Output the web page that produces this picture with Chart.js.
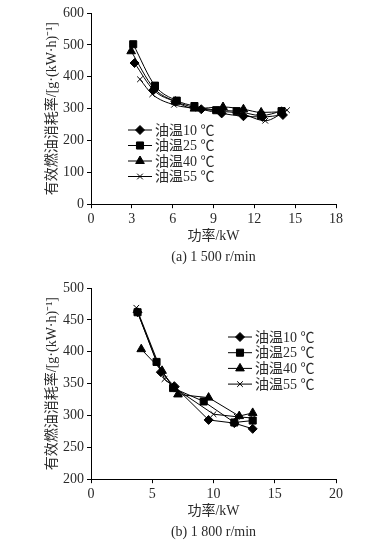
<!DOCTYPE html>
<html>
<head>
<meta charset="utf-8">
<script src="https://cdn.jsdelivr.net/npm/chart.js@4.4.1/dist/chart.umd.min.js"></script>
<style>
  body { margin: 0; background: #fff; }
  .box { position: absolute; left: 0; width: 386px; height: 275px; }
</style>
</head>
<body>
<div class="box" style="top:0"><canvas id="chartA"></canvas></div>
<div class="box" style="top:275px"><canvas id="chartB"></canvas></div>
<script>
// (a) 1 500 r/min
var aX10 = [3.2, 4.6, 6.2, 8.1, 9.6, 11.2, 12.6, 14.1];
var aY10 = [443, 358, 322, 298, 285, 276, 274, 280];
var aX25 = [3.1, 4.7, 6.3, 7.6, 9.2, 10.7, 12.5, 14.0];
var aY25 = [502, 372, 325, 308, 295, 292, 278, 292];
var aX40 = [2.95, 4.6, 6.2, 7.6, 9.7, 11.2, 12.5, 14.0];
var aY40 = [480, 365, 322, 300, 305, 298, 288, 290];
var aX55 = [3.6, 4.5, 6.1, 7.9, 9.4, 11.0, 12.8, 14.4];
var aY55 = [392, 345, 312, 300, 292, 285, 262, 295];

// (b) 1 800 r/min
var bX10 = [3.8, 5.7, 6.8, 9.6, 11.7, 13.2];
var bY10 = [462, 368, 346, 293, 288, 279];
var bX25 = [3.8, 5.35, 6.7, 9.2, 11.7, 13.2];
var bY25 = [462, 384, 343, 322, 289, 292];
var bX40 = [4.1, 5.8, 7.1, 9.6, 12.1, 13.2];
var bY40 = [404, 370, 333, 328, 299, 304];
var bX55 = [3.7, 6.0, 7.0, 10.0, 11.9, 13.2];
var bY55 = [469, 357, 341, 302, 298, 296];

var seriesLabels = ['油温10 ℃', '油温25 ℃', '油温40 ℃', '油温55 ℃'];
var markStyles = ['rectRot', 'rect', 'triangle', 'crossRot'];
var markSizes = [4.5, 5, 5, 4];

var yTitle = '有效燃油消耗率/[g·(kW·h)⁻¹]';
var xTitle = '功率/kW';

var FONT = '"Liberation Serif", "Noto Sans CJK SC", serif';
var INK = '#2a2a2a';

function pts(xs, ys) {
  return xs.map(function (x, i) { return { x: x, y: ys[i] }; });
}

function makeSets(list, smooth) {
  return list.map(function (d, i) {
    return {
      label: seriesLabels[i],
      data: pts(d[0], d[1]),
      borderColor: '#000',
      backgroundColor: '#000',
      borderWidth: 1,
      pointStyle: markStyles[i],
      pointRadius: markSizes[i],
      pointBorderWidth: 1,
      pointBorderColor: '#000',
      pointBackgroundColor: '#000',
      cubicInterpolationMode: smooth ? 'monotone' : 'default',
      tension: 0
    };
  });
}

// legend drawn inside the plot
var innerLegend = {
  id: 'innerLegend',
  afterDraw: function (chart, args, opts) {
    var ctx = chart.ctx;
    ctx.save();
    chart.data.datasets.forEach(function (ds, i) {
      var y = opts.top + i * opts.gap;
      ctx.strokeStyle = '#000';
      ctx.lineWidth = 1;
      ctx.beginPath();
      ctx.moveTo(opts.left, y);
      ctx.lineTo(opts.left + 24, y);
      ctx.stroke();
      ctx.fillStyle = '#000';
      Chart.helpers.drawPoint(ctx, {
        pointStyle: ds.pointStyle, radius: ds.pointRadius, rotation: 0, borderWidth: 1
      }, opts.left + 12, y);
      ctx.fillStyle = INK;
      ctx.font = '14px ' + FONT;
      ctx.textBaseline = 'middle';
      ctx.fillText(ds.label, opts.left + 27, y + 1);
    });
    ctx.restore();
  }
};

function axisOpts(min, max, step, title, isY) {
  return {
    type: 'linear',
    min: min, max: max,
    ticks: { stepSize: step, color: INK, font: { family: FONT, size: 14 }, padding: 3 },
    grid: { display: true, drawOnChartArea: false, drawTicks: true, tickLength: 4, color: '#000' },
    border: { display: true, color: '#000', width: 1 },
    title: { display: true, text: title, color: INK, font: { family: FONT, size: 14 }, padding: { top: 4, bottom: 4 } },
    afterFit: function (s) {
      if (isY) s.width = 51; else s.height = 45;
    }
  };
}

function build(id, sets, xr, yr, caption, leg, smooth) {
  new Chart(document.getElementById(id), {
    type: 'line',
    data: { datasets: makeSets(sets, smooth) },
    options: {
      responsive: true,
      maintainAspectRatio: false,
      animation: false,
      layout: { padding: { left: 40, right: 50, top: 13, bottom: 9 } },
      scales: {
        x: axisOpts(xr[0], xr[1], xr[2], xTitle, false),
        y: axisOpts(yr[0], yr[1], yr[2], yTitle, true)
      },
      plugins: {
        legend: { display: false },
        tooltip: { enabled: false },
        title: {
          display: true, position: 'bottom', fullSize: false, text: caption,
          color: INK, font: { family: FONT, size: 14, weight: 'normal' }, padding: 0
        },
        innerLegend: leg
      }
    },
    plugins: [innerLegend]
  });
}

build('chartA',
  [[aX10, aY10], [aX25, aY25], [aX40, aY40], [aX55, aY55]],
  [0, 18, 3], [0, 600, 100], '(a) 1 500 r/min',
  { left: 128, top: 130, gap: 15.5 }, true);

build('chartB',
  [[bX10, bY10], [bX25, bY25], [bX40, bY40], [bX55, bY55]],
  [0, 20, 5], [200, 500, 50], '(b) 1 800 r/min',
  { left: 228, top: 62, gap: 15.7 }, false);
</script>
</body>
</html>
